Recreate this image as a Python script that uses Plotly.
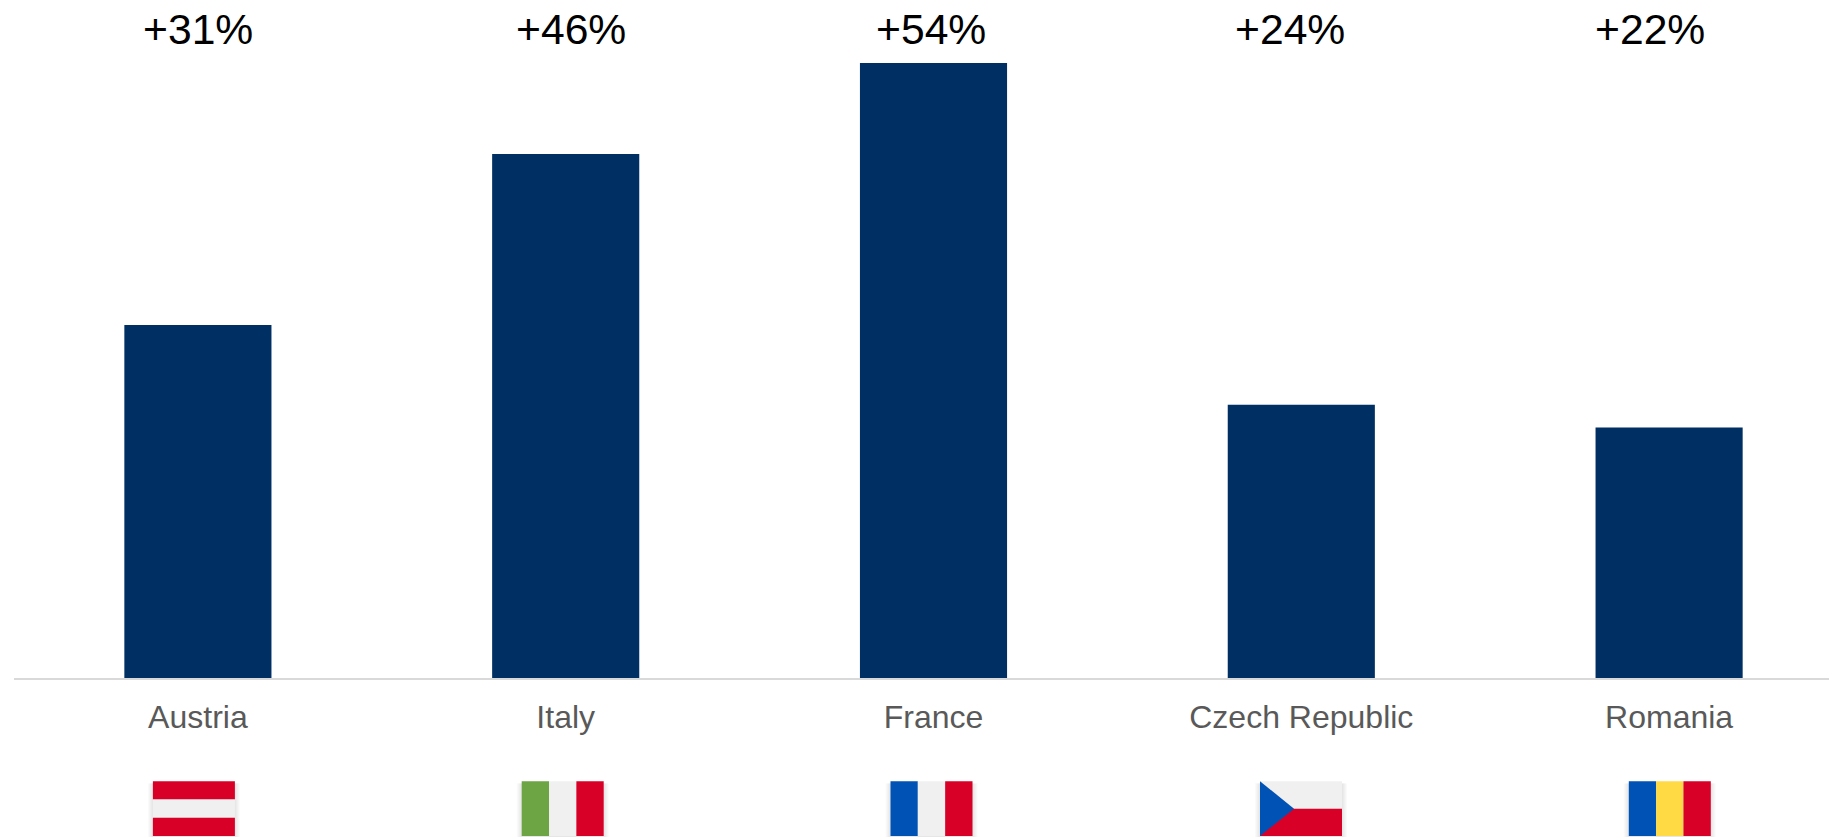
import plotly.graph_objects as go

countries = ["Austria", "Italy", "France", "Czech Republic", "Romania"]
growth_pct = [31, 46, 54, 24, 22]

FONT = "Liberation Sans"
BAR_COLOR = "#002F63"
RED, WHITE, GREEN, BLUE, YELLOW = "#D80027", "#F0F0F0", "#6DA544", "#0052B4", "#FFDA44"

WIDTH, HEIGHT = 1829, 837
LEFT, BASELINE = 14, 678
CATEGORY_STEP = 367.8  # horizontal pixels per category

# Growth labels sit in a row above the bars, a little off the bar centres
label_offsets = [0, 5.5, -3, -11, -19]
label_centres = [i + d / CATEGORY_STEP for i, d in enumerate(label_offsets)]
LABEL_ROW = 29  # pixels below the top edge

# Flag offsets from the category centre, in pixels
flag_offsets = [-4, -3, -2, -0.3, 0.7]
FLAG_W, FLAG_H = 82, 54.7
FLAG_TOP = 103.3  # pixels below the baseline

# Each flag: stripes as (orientation, colours)
flags = [
    ("h", [RED, WHITE, RED]),
    ("v", [GREEN, WHITE, RED]),
    ("v", [BLUE, WHITE, RED]),
    ("czech", [WHITE, RED, BLUE]),
    ("v", [BLUE, YELLOW, RED]),
]

fig = go.Figure(
    go.Bar(
        x=list(range(len(countries))),
        y=growth_pct,
        width=0.4,
        marker=dict(color=BAR_COLOR, line=dict(width=0)),
        hoverinfo="skip",
    )
)


def flag_rect(i, x0, x1, y0, y1, color, opacity=1.0):
    fig.add_shape(
        type="rect", xref="x", yref="paper",
        xsizemode="pixel", ysizemode="pixel",
        xanchor=i, yanchor=0,
        x0=x0, x1=x1, y0=-y0, y1=-y1,
        fillcolor=color, opacity=opacity, line=dict(width=0), layer="above",
    )


for i, (kind, colors) in enumerate(flags):
    left = flag_offsets[i] - FLAG_W / 2
    right = left + FLAG_W
    top = FLAG_TOP
    bottom = top + FLAG_H
    # Soft drop shadow behind the flag
    for grow in (5, 4, 3, 2, 1):
        flag_rect(i, left - grow, right + grow, top + 2, bottom + grow, "#000000", 0.02)
    if kind == "v":
        for k, c in enumerate(colors):
            flag_rect(i, left + FLAG_W * k / 3, left + FLAG_W * (k + 1) / 3,
                      top, bottom, c)
    elif kind == "h":
        for k, c in enumerate(colors):
            flag_rect(i, left, right, top + FLAG_H * k / 3,
                      top + FLAG_H * (k + 1) / 3, c)
    else:
        mid = top + FLAG_H / 2
        flag_rect(i, left, right, top, mid, colors[0])
        flag_rect(i, left, right, mid, bottom, colors[1])
        fig.add_shape(
            type="path", xref="x", yref="paper",
            xsizemode="pixel", ysizemode="pixel",
            xanchor=i, yanchor=0,
            path=f"M {left} {-top} L {left + FLAG_W * 0.415} {-mid} L {left} {-bottom} Z",
            fillcolor=colors[2], line=dict(width=0), layer="above",
        )

for c, v in zip(label_centres, growth_pct):
    fig.add_annotation(
        x=c, xref="x", y=(BASELINE - LABEL_ROW) / BASELINE, yref="paper",
        yanchor="middle", xanchor="center", showarrow=False,
        text=f"+{v}%", font=dict(family=FONT, size=42.67, color="#000000"),
    )

fig.update_layout(
    width=WIDTH,
    height=HEIGHT,
    margin=dict(l=LEFT, r=0, t=0, b=HEIGHT - BASELINE, pad=0),
    paper_bgcolor="white",
    plot_bgcolor="white",
    showlegend=False,
    xaxis=dict(
        tickmode="array",
        tickvals=list(range(len(countries))),
        ticktext=countries,
        range=[-0.5, -0.5 + (WIDTH - LEFT) / CATEGORY_STEP],
        showgrid=False,
        zeroline=False,
        showline=True,
        linecolor="#D9D9D9",
        linewidth=2,
        ticks="outside",
        ticklen=9.5,
        tickcolor="rgba(0,0,0,0)",
        tickfont=dict(family=FONT, size=32, color="#595959"),
    ),
    yaxis=dict(
        range=[0, 54 * BASELINE / 615],
        visible=False,
        showgrid=False,
        zeroline=False,
    ),
)

fig.write_html("out.html")
